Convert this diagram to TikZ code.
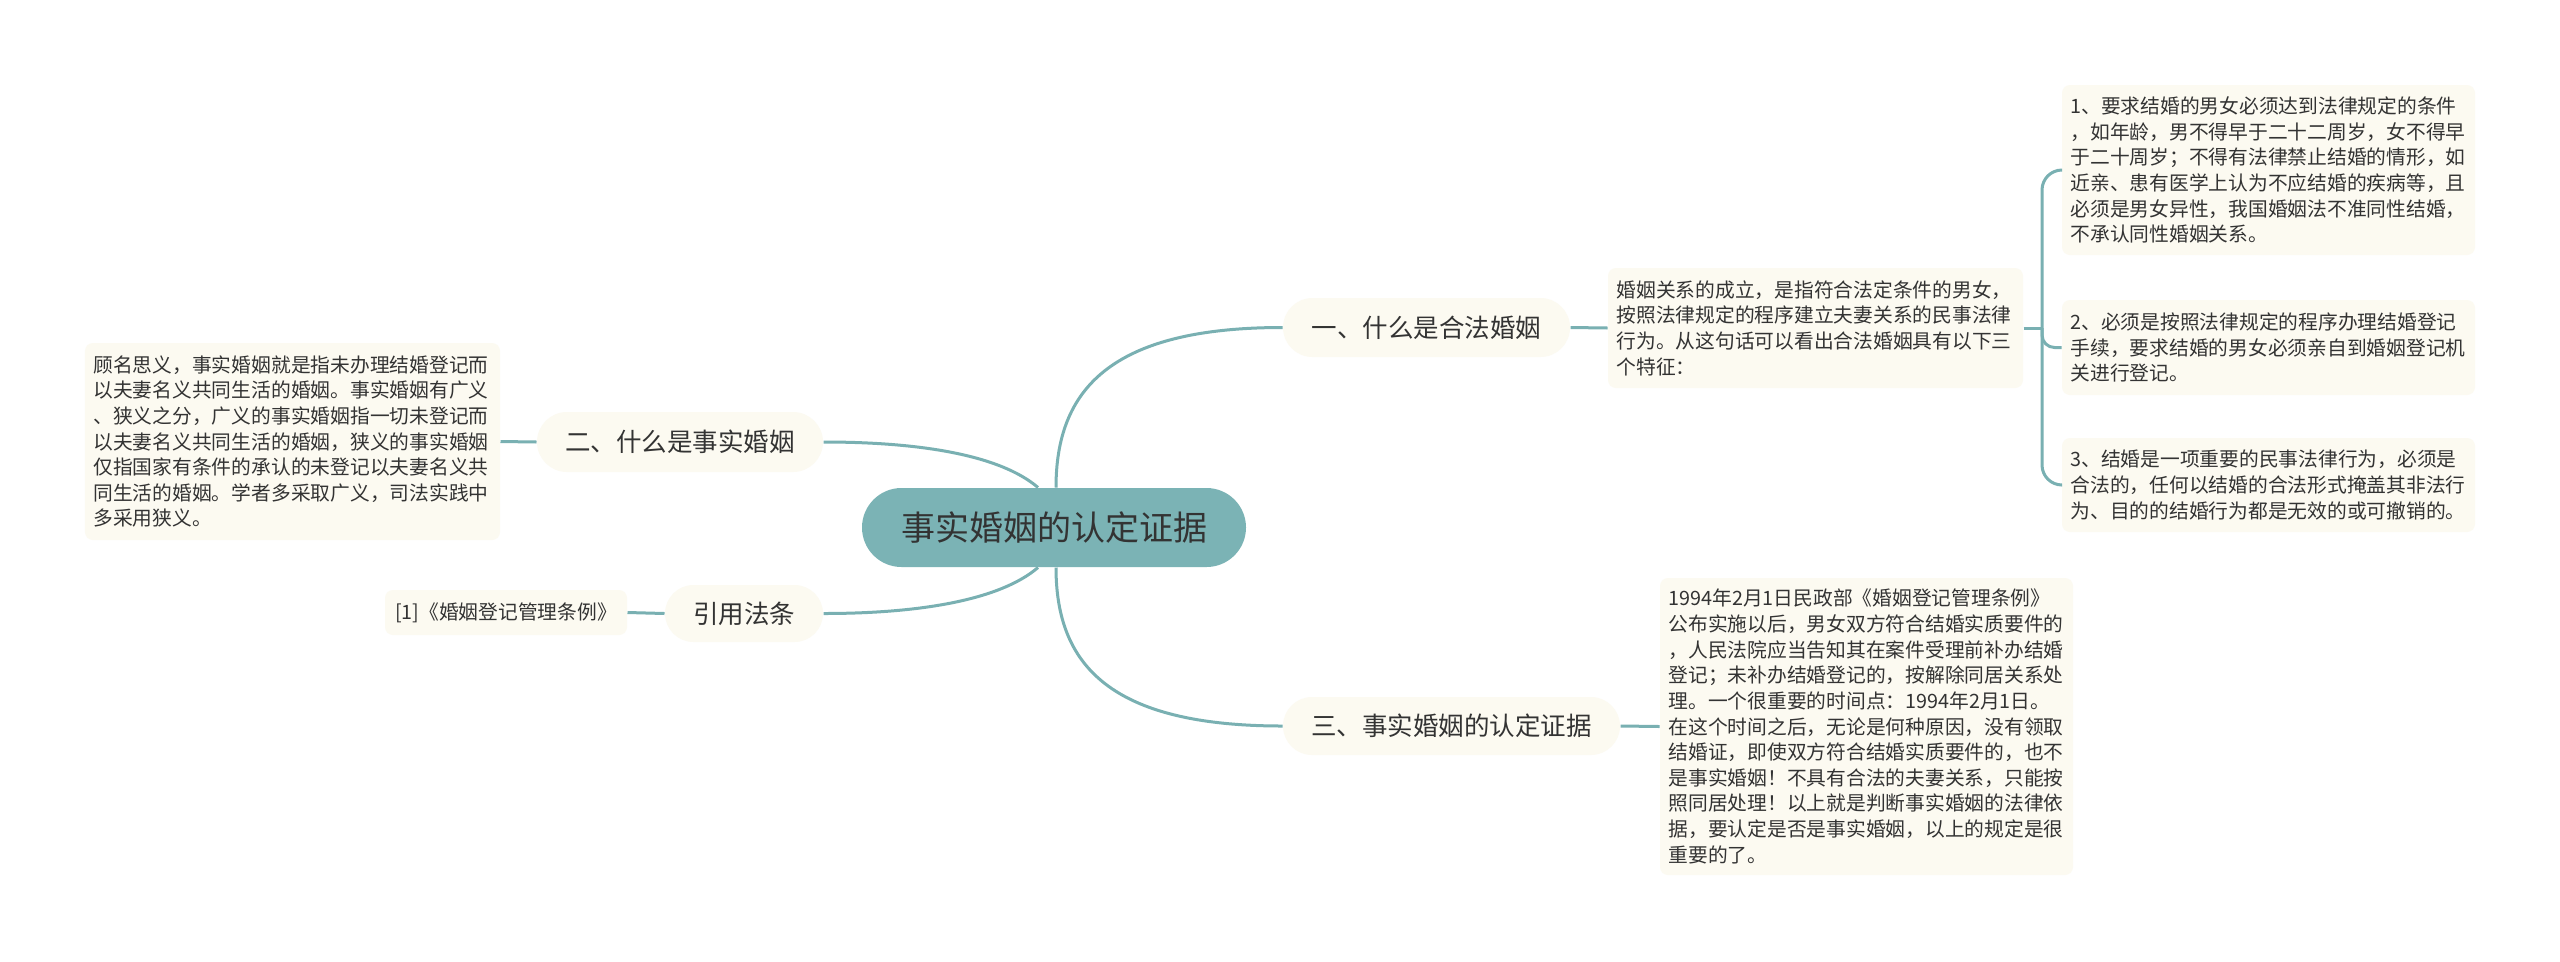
\documentclass[tikz,border=0pt]{standalone}
\usepackage{fontspec}
\setmainfont{Noto Sans CJK SC}
\definecolor{teal1}{HTML}{79B0B2}
\definecolor{rootfill}{HTML}{7BB3B5}
\definecolor{cream}{HTML}{FCFAF1}
\definecolor{ink}{HTML}{333333}
\tikzset{
  rootbox/.style={fill=rootfill, text=ink, inner sep=0pt, font=\fontsize{13.6pt}{16pt}\selectfont},
  branchbox/.style={fill=cream, text=ink, inner sep=0pt, font=\fontsize{10.2pt}{12pt}\selectfont},
  leafbox/.style={fill=cream, text=ink, rounded corners=3.2pt, inner xsep=3.4pt, inner ysep=0pt,
     align=left, font=\fontsize{7.9pt}{10.25pt}\selectfont},
  link/.style={draw=teal1, line width=1.2pt},
}
\begin{document}
\begin{tikzpicture}[x=0.4pt, y=-0.4pt]
\useasboundingbox[fill=white] (0,0) rectangle (2560,961);

% root
\node[rootbox, minimum width=153.6pt, minimum height=31.6pt, rounded corners=15.8pt] (root) at (1054,527.5) {事实婚姻的认定证据};

% branches
\node[branchbox, minimum width=114.8pt, minimum height=23.6pt, rounded corners=11.8pt] (b1) at (1426.5,327.5) {一、什么是合法婚姻};
\node[branchbox, minimum width=134.8pt, minimum height=23.2pt, rounded corners=11.6pt] (b3) at (1451.5,726) {三、事实婚姻的认定证据};
\node[branchbox, minimum width=114.4pt, minimum height=24pt, rounded corners=12pt] (b2) at (680,442) {二、什么是事实婚姻};
\node[branchbox, minimum width=63.2pt, minimum height=22.8pt, rounded corners=11.4pt] (b4) at (744,613.5) {引用法条};

% leaves
\node[leafbox, text width=159.2pt, minimum height=48pt] (l0) at (1815.5,328) {婚姻关系的成立，是指符合法定条件的男女，\\
按照法律规定的程序建立夫妻关系的民事法律\\
行为。从这句话可以看出合法婚姻具有以下三\\
个特征：};

\node[leafbox, text width=158.4pt, minimum height=68pt] (l1) at (2268.5,170) {1、要求结婚的男女必须达到法律规定的条件\\
，如年龄，男不得早于二十二周岁，女不得早\\
于二十周岁；不得有法律禁止结婚的情形，如\\
近亲、患有医学上认为不应结婚的疾病等，且\\
必须是男女异性，我国婚姻法不准同性结婚，\\
不承认同性婚姻关系。};

\node[leafbox, text width=158.4pt, minimum height=38pt] (l2) at (2268.5,347.5) {2、必须是按照法律规定的程序办理结婚登记\\
手续，要求结婚的男女必须亲自到婚姻登记机\\
关进行登记。};

\node[leafbox, text width=158.4pt, minimum height=37.6pt] (l3) at (2268.5,485) {3、结婚是一项重要的民事法律行为，必须是\\
合法的，任何以结婚的合法形式掩盖其非法行\\
为、目的的结婚行为都是无效的或可撤销的。};

\node[leafbox, text width=158.4pt, minimum height=118.8pt] (l4) at (1866.5,726.5) {1994年2月1日民政部《婚姻登记管理条例》\\
公布实施以后，男女双方符合结婚实质要件的\\
，人民法院应当告知其在案件受理前补办结婚\\
登记；未补办结婚登记的，按解除同居关系处\\
理。一个很重要的时间点：1994年2月1日。\\
在这个时间之后，无论是何种原因，没有领取\\
结婚证，即使双方符合结婚实质要件的，也不\\
是事实婚姻！不具有合法的夫妻关系，只能按\\
照同居处理！以上就是判断事实婚姻的法律依\\
据，要认定是否是事实婚姻，以上的规定是很\\
重要的了。};

\node[leafbox, text width=159.2pt, minimum height=78.8pt] (l5) at (292.5,441.5) {顾名思义，事实婚姻就是指未办理结婚登记而\\
以夫妻名义共同生活的婚姻。事实婚姻有广义\\
、狭义之分，广义的事实婚姻指一切未登记而\\
以夫妻名义共同生活的婚姻，狭义的事实婚姻\\
仅指国家有条件的承认的未登记以夫妻名义共\\
同生活的婚姻。学者多采取广义，司法实践中\\
多采用狭义。};

\node[leafbox, align=center, inner xsep=0pt, minimum width=96.8pt, minimum height=18pt] (l6) at (506,612.5) {[1]《婚姻登记管理条例》};

% connectors from root
\draw[link] ([xshift=0.8pt]root.north) .. controls (1056,390) and (1110,327.5) .. (b1.west);
\draw[link] ([xshift=0.8pt]root.south) .. controls (1056,665) and (1110,726) .. (b3.west);
\draw[link] ([xshift=-6.4pt]root.north) .. controls (1000,455) and (920,442) .. (b2.east);
\draw[link] ([xshift=-6.4pt]root.south) .. controls (1000,600) and (920,613.5) .. (b4.east);

% branch to leaves
\draw[link] (b1.east) -- (l0.west);
\draw[link] (b3.east) -- (l4.west);
\draw[link] (b2.west) -- (l5.east);
\draw[link] (b4.west) -- (l6.east);

% bracket
\coordinate (bj) at (2042,328);
\draw[link] (l0.east) -- (bj);
\draw[link, rounded corners=8pt] (bj) |- (l1.west);
\draw[link, rounded corners=5pt] (bj) |- (l2.west);
\draw[link, rounded corners=8pt] (bj) |- (l3.west);
\end{tikzpicture}
\end{document}
